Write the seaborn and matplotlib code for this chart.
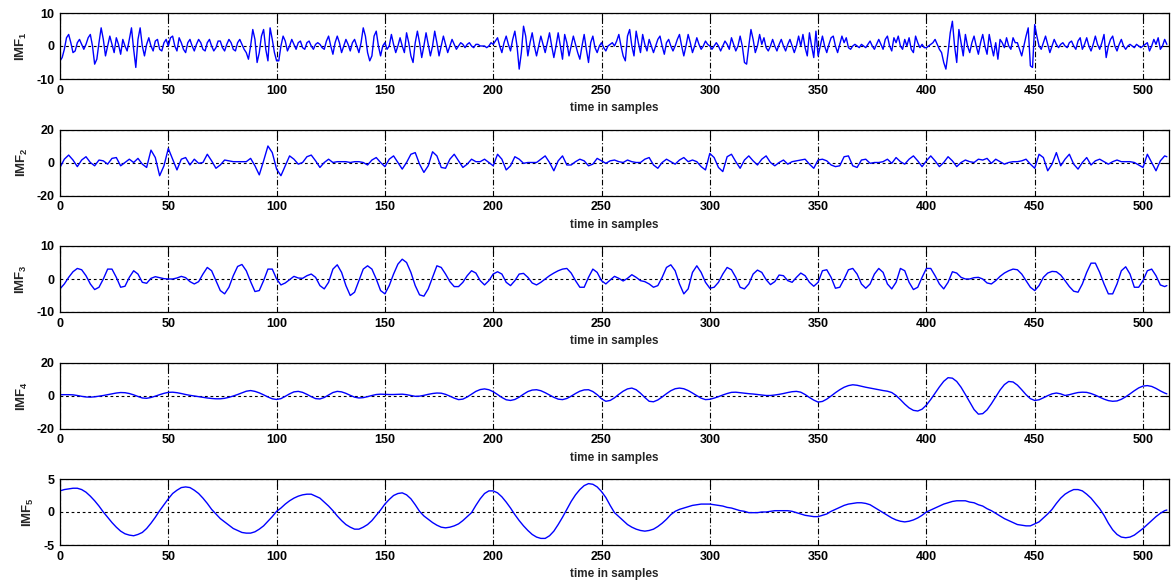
import numpy as np
import seaborn as sns
import matplotlib
matplotlib.use("Agg")
import matplotlib.pyplot as plt

# IMF1: one value per sample (0..511)
imf1 = [
    -4.5, -3.5, -1, 2.5, 3.5, 1, -2, -1.5, 1, 2, 0.5, -1, 0.5, 2.5, 3.5, 0,
    -5.5, -4, 1, 5.5, 2, -3, 0, 3, 0.5, -2, 2.5, 0.5, -2.5, 2, 0, -1.5,
    2, 5.5, -1, -6.5, 2, 5.5, 0, -3, 0.5, 2.5, 0, -1.5, 1.5, 2, -1, -1.5,
    1, 2, 0, 2.5, 3, 0, -1.5, 2.5, 1, -1, -2, 1, 2, 0, -1.5, 0.5,
    2, 1, -1, -1.5, 1, 2, 0, -1.5, -0.5, 1.5, 1.5, -0.5, -1.5, 0.5, 2, 1,
    -1, -1.5, 1, 2, 0.5, -1, -2, -4, 0, 5, 2, -5, -2, 3, 5, -1,
    -4.5, 5.5, 2, -2, -4.5, -4.5, 0, 3, 1.5, -1.5, 0, 2, 0.5, -1, 1, 1.5,
    -0.5, -1, 1, 1.5, 0, -1, 0.5, 1, 0.5, -0.5, -1, 1.5, 3, 0, -2.5, 1,
    3, 1, -2, 0, 2, 0.5, -1.5, 1, 2, 0, -2, 1, 5.5, 3, -2, -4.5,
    -3, 3, 4.5, 0, -3, 0, 1, -1, 0, 3.5, 0.5, -2, 0, 2.5, 0, -2,
    4, 1, -3, -5, 1, 4.5, 1, -3.5, 0, 4, 0.5, -3, 0, 4.5, 1, -3,
    0, 3, 0.5, -2, 0, 2, 0.5, -1, 0, 1, 0.5, -0.5, 0.5, 1, 0, -0.5,
    0.5, 0.5, 0, 0, 0, -0.5, 0, 1, 0.5, 1.5, 2.5, 0, -2, 1, 3, 0.5,
    -1.5, 2, 4.5, 0, -7, -2, 6, 3, -3, 1, 4, 0, -3, 0, 3, 0.5,
    -2, 1, 4, 0, -3.5, 0, 4, 0, -4, 3.5, 1, -3, 0, 3, 0.5, -2,
    -4, 0, 3.5, -1, -5, 1, 3, -0.5, -2, 0, 1, -0.5, -1.5, 0, 0.5, 1,
    0, 1.5, 3.5, 0, -3, -4.5, 3, 5, 0, -3, 4.5, 1, -2, 3.5, 0.5, -1.5,
    2, 0, -2, 0, 2, 3, 0, -2.5, 1, 2, 0, -1.5, 0, 2, 3.5, 0,
    -3, 0, 3.5, 1, -2, 0, 2.5, 0.5, -1, 0, 1.5, 0.5, 0, -1, 0, 1,
    0, -1.5, 0, 1.5, 0.5, -1, 2.5, 0.5, -1.5, 0, 3, 0, -5, -5.5, 0, 5,
    2, -2, 0, 3.5, 0.5, 2.5, -0.5, -1.5, 0, 2, 0, -1.5, 0.5, 2, 0, -1.5,
    0.5, 2, 0, -2, 0, 3, 0, 3.5, -0.5, -3, 4, 0, -3.5, 4.5, -3, 0,
    3, 0, -2, 0.5, 2.5, 3, 0, -2, 0.5, 3, 1, 2.5, -0.5, -1, 0, 0.5,
    0, -0.5, 0.5, 0, -0.5, 0.5, 1.5, 0, -1, 0.5, 2, 0.5, -1, 2, 3, 0,
    -1.5, 2.5, 1, 3, 0, -1, 2, 0, 2.5, -1, -2, 3, 1, -0.5, 0.5, -0.5,
    -0.5, 0, 0.5, 1, 2, 0.5, -1, -2, -5, -7, -2, 4, 7.5, 0, -5, 5,
    1, -3, 3.5, 0, -2, 1, 3, 0, -2.5, 1, 3.5, 0, -2.5, 3.5, 0, -3,
    1, -4, 2, 1, -0.5, 2.5, 0, -1, 2.5, 1, 1, -1, -3, 0, 3, 5.5,
    -6, -6.5, 6.5, 3, 0, -1, 1, 3, 0.5, -2, 0, 2, 0.5, -0.5, 0.5, 1,
    0, -0.5, 1, 1.5, 0, -1, 1.5, 2.5, -1, 0.5, 2.5, 0, -1.5, 0.5, 3, 0.5,
    -1, 1, 3.5, -3.5, 0, 2, 3, 0, -1.5, 0.5, 2, 0, -1, 0, 0.5, 0,
    -0.5, 0.5, 0, -0.5, 0, 0.5, 1, -1.5, 0, 2, 0.5, 2.5, -1, 0, 2, 0.5,
]

# IMF2..IMF5: one value every 2 samples (0, 2, ..., 510) plus the last sample 511
t_half = list(range(0, 512, 2)) + [511]

imf2 = [
    -3, 2, 4.5, 1.5, -2.5, 1.5, 3.5, 0, -2, 1.5, 1, -1, 2.5, 3, -2, 0,
    2, 0, 2.5, -1, -3, 7.5, 3, -8, -2, 8.5, 2, -4.5, 2, 3, -1.5, 2,
    -0.5, 0, 5, 1, -3.5, -1.5, 1.5, 1, 0.5, 0.5, 0.5, 0.5, 2.5, -2, -7.5, 1,
    10, 6, -4, -8, -2, 4, 2, -1, 0, 3.5, 4.5, 1, -3, 0, 2, 0,
    0.5, 0.5, 0.5, 0, 0.5, 0.5, 0, -1.5, 1.5, 3, 0, -2.5, 2, 4, 0, -4,
    0, 5, 6, -1, -6, -2, 6.5, 4, -3, -3.5, 2, 5, 1, -3, -1, 2,
    0.5, 0.5, 2, 0, -2, 5, 2, -4.5, -2, 3.5, 2, -0.5, 0, 0, 0, 2,
    4, 0, -5, 1, 4, -1.5, -1.5, 0.5, 2, 1, -2, -1, 2.5, 1, -0.5, 1,
    1.5, 0.5, 0, 1.5, 0.5, 0, 0, 2, 3, -1.5, -3.5, 0, 2, 0.5, -1, 1.5,
    3, 0.5, 1.5, 0.5, -2.5, -4.5, 5.5, 3, -3, -5.5, 3.5, 5, 0.5, -3.5, 1.5, 4,
    1, -1.5, 2, 4, 0, -2, 0, 1.5, -1, 0.5, 1, 1.5, 2, -1, -3.5, 1.5,
    2, 1, -1.5, -2.5, -2, 3.5, 4, -2, -3, 1.5, 2, -0.5, 0, 0, 0.5, 2,
    -0.5, 3, 0.5, -1, 2, 4, 1, -2.5, 1, 4, 1, -2.5, 0, 3.5, 1, -2.5,
    0, 1.5, 0.5, 0, 2, 1.5, 2.5, -0.5, 2, 0.5, -1, 0, 0.5, 0.5, 1, 2,
    -1, -3.5, 5, 3, -5, -1, 6, -2, 2, 5, -1, -4, 0, 3, -1.5, 1,
    2, 0.5, -1, 0.5, 1.5, 0.5, 0.5, 0.5, 0, -1.5, -3, 5, 0, -5, 1, 4,
    3.5,
]

imf3 = [
    -3, -1.5, 0.5, 2.2, 3.2, 2.8, 1, -1.5, -3.2, -2.5, 0, 3, 3, 0.5, -2.5, -2.2,
    0.5, 2.5, 1.5, -1, -1.3, 0.2, 0.7, 0.4, 0.1, 0, 0, 0.3, 0.8, 0.4, -0.8, -1.5,
    -0.8, 1.5, 3.5, 2.5, -0.5, -3.5, -4.5, -2.5, 1, 3.8, 4.4, 2.5, -0.8, -3.8, -3.5, -0.5,
    3, 3, 0, -1.8, -1.2, -0.2, 0.8, 0.3, 0.2, 1, 1.5, 0.5, -2, -3, -1, 3,
    4.3, 2, -2, -5, -4, -0.5, 3, 4, 3, 0, -3.5, -4.5, -2, 1.5, 4.5, 6,
    5, 2, -2, -4.8, -5.2, -3, 0.5, 4, 3.5, 1.5, -0.8, -2.3, -2.3, -1, 1, 2.5,
    1.8, -0.5, -1.8, -0.5, 1.5, 2.2, 1.5, -1, -2, -0.5, 1.5, 1.7, 0.5, -1.2, -1.8, -1,
    0, 1, 1.8, 2.5, 3, 3.2, 1.8, -0.5, -2.5, -2.5, 0.5, 3, 2, -0.5, -1.5, -0.3,
    0.8, 0.2, -0.6, 0.2, 1.3, 0.5, -0.5, -0.8, -1.5, -2.5, -2, 0.5, 3.5, 4.3, 2.5, -1.5,
    -4.5, -3, 2, 4, 2, -1, -2.8, -2.5, -1, 1.5, 3.5, 2.8, 0.5, -2.5, -3, -1.5,
    1.5, 2.7, 2, -0.2, -1.7, -0.8, 1.2, 1, -0.5, -1, 0.5, 1.8, 1, -1, -2.2, -1,
    2.5, 2.8, 0.5, -2.8, -2.5, 0, 2.8, 3.2, 1.5, -1.5, -2.8, -1.5, 1.5, 3.2, 2, -1.5,
    -3, -1, 3.2, 2.5, -1, -3.2, -2.5, 0.5, 3.2, 3.2, 1, -1.5, -3, -1, 2.2, 1.8,
    0.5, 0, 0, 0.4, 0.5, 0, -1.2, -1.5, -0.5, 0.8, 1.8, 2.5, 3, 2.8, 1.5, -0.5,
    -2.5, -3.5, -2, 0.5, 1.8, 2.3, 2.2, 1.2, -0.5, -2.3, -3.7, -4, -1.5, 2, 4.8, 4.8,
    2, -1.5, -4.5, -4.5, -1.5, 2.5, 3.7, 1.5, -2.5, -2.5, -0.5, 2.5, 3, 1, -1.8, -2.3,
    -2,
]

imf4 = [
    0.5, 0.5, 0.5, 0.4, 0, -0.5, -0.9, -1, -0.8, -0.4, 0, 0.5, 1, 1.5, 1.8, 1.7,
    1.2, 0.4, -0.6, -1.5, -1.7, -1.2, -0.4, 0.5, 1.3, 1.9, 2, 1.7, 1.2, 0.6, 0.1, -0.3,
    -0.7, -1.1, -1.5, -1.8, -2, -2, -1.7, -1.1, -0.3, 0.6, 1.6, 2.6, 3, 2.5, 1.6, 0.4,
    -0.9, -2, -2.4, -1.9, -0.5, 1, 2.2, 2.5, 1.9, 0.7, -0.7, -1.9, -2.1, -1.2, 0.3, 1.8,
    2.5, 2.2, 1.3, 0.1, -1, -1.5, -1.3, -0.7, 0, 0.6, 0.8, 0.7, 0.6, 0.6, 0.7, 0.8,
    0.5, 0, -0.5, -0.4, 0.1, 0.7, 1.2, 1.5, 1.4, 0.7, -0.4, -1.6, -2.5, -2.2, -0.9, 0.8,
    2.5, 3.6, 4, 3.5, 2.3, 0.6, -1.2, -2.6, -3, -2.4, -1, 0.8, 2.4, 3.3, 3.5, 2.9,
    1.7, 0.3, -1.1, -2.2, -2.5, -1.8, -0.4, 1.2, 2.6, 3.4, 3.5, 2.4, 0.5, -2, -3.5, -3,
    -1.4, 0.7, 2.6, 4, 4.5, 3.5, 1.4, -1.2, -3.5, -3.8, -2.7, -0.9, 1.1, 2.9, 4.1, 4.5,
    4.1, 3, 1.5, -0.1, -1.6, -2.5, -2.3, -1.6, -0.7, 0.3, 1.2, 1.9, 2, 1.7, 1.4, 1.1,
    0.9, 0.6, 0.3, 0, 0, 0.3, 0.7, 1.2, 1.8, 2.3, 2.5, 2, 0.6, -1.2, -2.8, -4,
    -3.6, -2.2, -0.3, 1.7, 3.5, 5, 6, 6.5, 6.2, 5.6, 5, 4.5, 4, 3.5, 3, 2.6,
    1.8, 0, -2.5, -5.2, -7.5, -9, -9.4, -8.3, -5.8, -2.4, 1.4, 5.2, 8.6, 10.8, 10.5, 8.5,
    5, 0.6, -4, -8.5, -11.3, -11, -8.7, -5, -0.8, 3.3, 6.6, 8.5, 8.2, 6.3, 3.5, 0.5,
    -1.9, -3, -2.6, -1.4, -0.1, 1, 1.5, 1, 0, 0.5, 1.2, 1.8, 2, 1.9, 1.2, 0.2,
    -1, -2.2, -3.1, -3.5, -3.3, -2.3, -0.8, 1, 2.9, 4.6, 5.7, 6, 5.5, 4.3, 2.8, 1.5,
    1,
]

imf5 = [
    3.2, 3.4, 3.5, 3.6, 3.6, 3.4, 3.0, 2.4, 1.7, 0.9, 0, -0.8, -1.6, -2.3, -2.9, -3.3,
    -3.5, -3.6, -3.4, -3.1, -2.5, -1.7, -0.8, 0.2, 1.1, 2.0, 2.8, 3.3, 3.7, 3.8, 3.7, 3.3,
    2.8, 2.1, 1.3, 0.4, -0.3, -1.0, -1.5, -2.0, -2.5, -2.8, -3.1, -3.2, -3.2, -3.0, -2.6, -2.1,
    -1.4, -0.7, 0.1, 0.6, 1.2, 1.7, 2.1, 2.4, 2.6, 2.7, 2.7, 2.4, 2.1, 1.5, 0.9, 0.2,
    -0.6, -1.3, -1.9, -2.3, -2.6, -2.6, -2.3, -1.9, -1.3, -0.5, 0.3, 1.2, 1.9, 2.5, 2.8, 2.9,
    2.6, 2.0, 1.1, 0.1, -0.6, -1.1, -1.6, -2.0, -2.3, -2.4, -2.3, -2.1, -1.8, -1.3, -0.7, -0.1,
    1.0, 2.0, 2.8, 3.2, 3.2, 2.9, 2.3, 1.5, 0.6, -0.4, -1.3, -2.1, -2.8, -3.4, -3.8, -4.0,
    -4.0, -3.6, -2.9, -1.9, -0.8, 0.4, 1.6, 2.6, 3.4, 4.0, 4.3, 4.2, 3.8, 3.1, 2.2, 1.0,
    -0.1, -0.7, -1.3, -1.9, -2.3, -2.6, -2.8, -2.9, -2.8, -2.6, -2.2, -1.7, -1.1, -0.4, 0.1, 0.4,
    0.6, 0.8, 1.0, 1.1, 1.2, 1.2, 1.2, 1.1, 1.0, 0.9, 0.7, 0.6, 0.4, 0.2, 0.1, -0.1,
    -0.1, -0.1, 0, 0, 0.1, 0.2, 0.2, 0.2, 0.2, 0.1, -0.1, -0.3, -0.5, -0.6, -0.7, -0.7,
    -0.5, -0.3, 0.1, 0.4, 0.7, 1.0, 1.2, 1.3, 1.4, 1.4, 1.3, 1.1, 0.7, 0.3, -0.1, -0.5,
    -0.9, -1.2, -1.4, -1.5, -1.4, -1.2, -0.9, -0.5, 0, 0.3, 0.6, 0.9, 1.2, 1.4, 1.6, 1.7,
    1.7, 1.7, 1.5, 1.4, 1.1, 0.9, 0.5, 0.2, -0.2, -0.6, -1.0, -1.3, -1.6, -1.9, -2.0, -2.1,
    -2.1, -1.8, -1.5, -0.9, -0.3, 0.4, 1.3, 2.1, 2.7, 3.1, 3.4, 3.4, 3.2, 2.7, 2.1, 1.3,
    0.5, -0.5, -1.7, -2.7, -3.4, -3.8, -3.9, -3.8, -3.5, -3.0, -2.5, -1.9, -1.3, -0.7, -0.2, 0.2,
    0.3,
]

t_fine = np.arange(len(imf1))

panels = [
    ("IMF$_1$", t_fine, imf1, 10),
    ("IMF$_2$", t_half, imf2, 20),
    ("IMF$_3$", t_half, imf3, 10),
    ("IMF$_4$", t_half, imf4, 20),
    ("IMF$_5$", t_half, imf5, 5),
]
xticks = list(range(0, 501, 50))

sns.set_theme(style="white")
plt.rcParams["font.family"] = ["Liberation Sans", "DejaVu Sans"]
plt.rcParams["font.weight"] = "bold"
plt.rcParams["axes.labelweight"] = "bold"
plt.rcParams["axes.unicode_minus"] = False
plt.rcParams["mathtext.default"] = "regular"

fig = plt.figure(figsize=(11.72, 5.86), dpi=100, facecolor="white")

for i, (label, t, values, lim) in enumerate(panels):
    top_px = 13 + i * 116.5
    ax = fig.add_axes([60 / 1172, 1 - (top_px + 66) / 586, 1109 / 1172, 66 / 586])
    sns.lineplot(x=t, y=values, ax=ax, color="#0000ff", linewidth=1.0)

    ax.set_xlim(0, 512)
    ax.set_ylim(-lim, lim)
    ax.set_xticks(xticks)
    ax.set_yticks([-lim, 0, lim])

    ax.xaxis.grid(True, color="black", linestyle=(0, (5, 2, 1, 2)), linewidth=0.8)
    ax.yaxis.grid(True, color="black", linestyle=(0, (2.5, 2.5)), linewidth=0.8)

    ax.tick_params(direction="in", length=5, width=0.8, top=True, right=True,
                   labelsize=9, colors="black", pad=4)
    for spine in ax.spines.values():
        spine.set_color("black")
        spine.set_linewidth(0.9)

    ax.set_xlabel("time in samples", fontsize=8.5, labelpad=4)
    ax.set_ylabel(label, fontsize=9.5, labelpad=5)

fig.savefig("out.png", dpi=100, facecolor="white")
plt.close(fig)
